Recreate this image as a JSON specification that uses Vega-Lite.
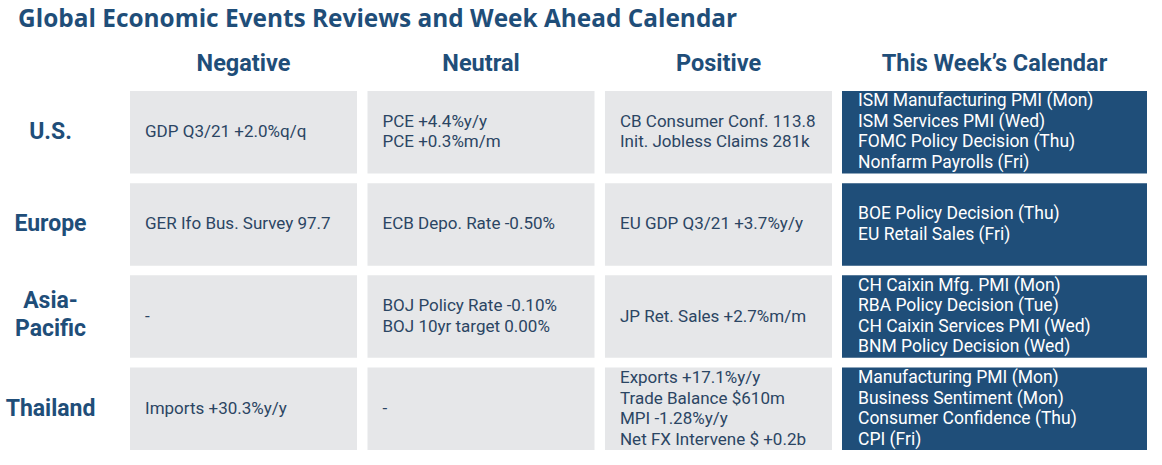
{
  "$schema": "https://vega.github.io/schema/vega-lite/v6.json",
  "background": "white",
  "padding": {"left": 5, "top": 6, "right": 5, "bottom": 5},
  "title": {
    "text": "Global Economic Events Reviews and Week Ahead Calendar",
    "anchor": "start",
    "fontSize": 24.4,
    "fontWeight": "bold",
    "color": "#1f4e79",
    "font": "Open Sans",
    "dx": 13,
    "offset": 19
  },
  "config": {"view": {"stroke": null}, "font": "Roboto"},
  "datasets": {
    "review": [
      {"row": "U.S.", "col": "Negative", "text": "GDP Q3/21 +2.0%q/q"},
      {"row": "U.S.", "col": "Neutral", "text": "PCE +4.4%y/y\nPCE +0.3%m/m"},
      {"row": "U.S.", "col": "Positive", "text": "CB Consumer Conf. 113.8\nInit. Jobless Claims 281k"},
      {"row": "Europe", "col": "Negative", "text": "GER Ifo Bus. Survey 97.7"},
      {"row": "Europe", "col": "Neutral", "text": "ECB Depo. Rate -0.50%"},
      {"row": "Europe", "col": "Positive", "text": "EU GDP Q3/21 +3.7%y/y"},
      {"row": "Asia-Pacific", "col": "Negative", "text": "-"},
      {"row": "Asia-Pacific", "col": "Neutral", "text": "BOJ Policy Rate -0.10%\nBOJ 10yr target 0.00%"},
      {"row": "Asia-Pacific", "col": "Positive", "text": "JP Ret. Sales +2.7%m/m"},
      {"row": "Thailand", "col": "Negative", "text": "Imports +30.3%y/y"},
      {"row": "Thailand", "col": "Neutral", "text": "-"},
      {"row": "Thailand", "col": "Positive", "text": "Exports +17.1%y/y\nTrade Balance $610m\nMPI -1.28%y/y\nNet FX Intervene $ +0.2b"}
    ],
    "calendar": [
      {"row": "U.S.", "col": "This Week’s Calendar", "text": "ISM Manufacturing PMI (Mon)\nISM Services PMI (Wed)\nFOMC Policy Decision (Thu)\nNonfarm Payrolls (Fri)"},
      {"row": "Europe", "col": "This Week’s Calendar", "text": "BOE Policy Decision (Thu)\nEU Retail Sales (Fri)"},
      {"row": "Asia-Pacific", "col": "This Week’s Calendar", "text": "CH Caixin Mfg. PMI (Mon)\nRBA Policy Decision (Tue)\nCH Caixin Services PMI (Wed)\nBNM Policy Decision (Wed)"},
      {"row": "Thailand", "col": "This Week’s Calendar", "text": "Manufacturing PMI (Mon)\nBusiness Sentiment (Mon)\nConsumer Confidence (Thu)\nCPI (Fri)"}
    ]
  },
  "spacing": 10,
  "hconcat": [
    {
      "width": 702,
      "height": 359,
      "data": {"name": "review"},
      "encoding": {
        "x": {"field": "col", "type": "nominal", "sort": ["Negative", "Neutral", "Positive"],
          "scale": {"paddingInner": 0.044, "paddingOuter": 0},
          "axis": {"orient": "top", "title": null, "ticks": false, "domain": false, "labelAngle": 0, "labelLimit": 0,
            "labelFontSize": 23.5, "labelFontWeight": "bold", "labelColor": "#1f4e79", "labelPadding": 16, "labelFont": "Roboto"}},
        "y": {"field": "row", "type": "nominal", "sort": ["U.S.", "Europe", "Asia-Pacific", "Thailand"],
          "scale": {"paddingInner": 0.105, "paddingOuter": 0},
          "axis": {"title": null, "ticks": false, "domain": false, "labelAlign": "center", "labelPadding": 80, "labelLimit": 0,
            "labelFontSize": 23, "labelFontWeight": "bold", "labelColor": "#1f4e79", "labelFont": "Roboto",
            "labelExpr": "datum.value == 'Asia-Pacific' ? ['Asia-', 'Pacific'] : datum.value", "labelLineHeight": 28,
            "labelOffset": {"condition": {"test": "datum.value == 'Asia-Pacific'", "value": -16}, "value": 0}}}
      },
      "layer": [
        {"mark": {"type": "rect", "color": "#e6e7e9"}},
        {
          "transform": [{"filter": "length(split(datum.text, '\\n')) == 1"}],
          "mark": {"type": "text", "align": "left", "baseline": "middle", "dx": -98.5, "dy": 0, "fontSize": 17, "lineHeight": 20.5, "lineBreak": "\n", "color": "#2b4563", "font": "Roboto"},
          "encoding": {"text": {"field": "text"}}
        },
        {
          "transform": [{"filter": "length(split(datum.text, '\\n')) == 2"}],
          "mark": {"type": "text", "align": "left", "baseline": "middle", "dx": -98.5, "dy": -10.25, "fontSize": 17, "lineHeight": 20.5, "lineBreak": "\n", "color": "#2b4563", "font": "Roboto"},
          "encoding": {"text": {"field": "text"}}
        },
        {
          "transform": [{"filter": "length(split(datum.text, '\\n')) == 4"}],
          "mark": {"type": "text", "align": "left", "baseline": "middle", "dx": -98.5, "dy": -30.75, "fontSize": 17, "lineHeight": 20.5, "lineBreak": "\n", "color": "#2b4563", "font": "Roboto"},
          "encoding": {"text": {"field": "text"}}
        }
      ]
    },
    {
      "width": 305,
      "height": 359,
      "data": {"name": "calendar"},
      "encoding": {
        "x": {"field": "col", "type": "nominal",
          "scale": {"paddingInner": 0, "paddingOuter": 0},
          "axis": {"orient": "top", "title": null, "ticks": false, "domain": false, "labelAngle": 0, "labelLimit": 0,
            "labelFontSize": 23.5, "labelFontWeight": "bold", "labelColor": "#1f4e79", "labelPadding": 16, "labelFont": "Roboto"}},
        "y": {"field": "row", "type": "nominal", "sort": ["U.S.", "Europe", "Asia-Pacific", "Thailand"],
          "scale": {"paddingInner": 0.105, "paddingOuter": 0}, "axis": null}
      },
      "layer": [
        {"mark": {"type": "rect", "color": "#1f4e79"}},
        {
          "transform": [{"filter": "length(split(datum.text, '\\n')) == 2"}],
          "mark": {"type": "text", "align": "left", "baseline": "middle", "dx": -136.5, "dy": -10.25, "fontSize": 17.5, "lineHeight": 20.5, "lineBreak": "\n", "color": "white", "font": "Roboto"},
          "encoding": {"text": {"field": "text"}}
        },
        {
          "transform": [{"filter": "length(split(datum.text, '\\n')) == 4"}],
          "mark": {"type": "text", "align": "left", "baseline": "middle", "dx": -136.5, "dy": -30.75, "fontSize": 17.5, "lineHeight": 20.5, "lineBreak": "\n", "color": "white", "font": "Roboto"},
          "encoding": {"text": {"field": "text"}}
        }
      ]
    }
  ]
}
